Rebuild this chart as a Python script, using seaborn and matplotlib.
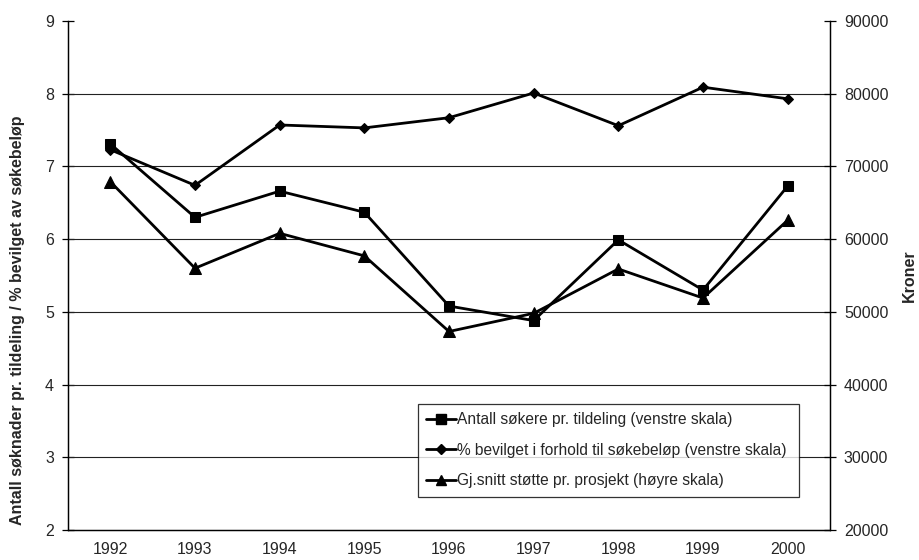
import matplotlib
matplotlib.use("Agg")
import matplotlib.pyplot as plt
from matplotlib.lines import Line2D
import seaborn as sns
import pandas as pd
import numpy as np

years = ["1992", "1993", "1994", "1995", "1996", "1997", "1998", "1999", "2000"]
antall_sokere = [7.31, 6.30, 6.66, 6.37, 5.08, 4.88, 5.99, 5.30, 6.73]
pst_bevilget = [7.23, 6.74, 7.57, 7.53, 7.67, 8.01, 7.56, 8.09, 7.93]
snitt_stotte = [67900, 56000, 60800, 57700, 47300, 49800, 55900, 51900, 62600]

lab_sokere = "Antall søkere pr. tildeling (venstre skala)"
lab_bevilget = "% bevilget i forhold til søkebeløp (venstre skala)"
lab_stotte = "Gj.snitt støtte pr. prosjekt (høyre skala)"

sns.set_style("white")
plt.rcParams["font.family"] = ["Liberation Sans", "DejaVu Sans"]
fs = 11.5

df = pd.DataFrame({
    "pos": np.arange(len(years)),
    "sokere": antall_sokere,
    "bevilget": pst_bevilget,
    "stotte": snitt_stotte,
})

fig = plt.figure(figsize=(9.19, 5.60), dpi=100)
ax = fig.add_axes([68 / 919, 30 / 560, 762 / 919, 509 / 560])
ax2 = ax.twinx()

lw = 2.0
sns.lineplot(data=df, x="pos", y="sokere", ax=ax, color="black", lw=lw,
             marker="s", markersize=7.5, markeredgecolor="black", zorder=3)
sns.lineplot(data=df, x="pos", y="bevilget", ax=ax, color="black", lw=lw,
             marker="D", markersize=5.5, markeredgecolor="black", zorder=3)
sns.lineplot(data=df, x="pos", y="stotte", ax=ax2, color="black", lw=lw,
             marker="^", markersize=8, markeredgecolor="black", zorder=3)

# left scale
ax.set_ylim(2, 9)
ax.set_yticks(range(2, 10))
ax.set_yticklabels([str(v) for v in range(2, 10)], fontsize=fs)
for v in range(3, 9):
    ax.axhline(v, color="#222222", lw=0.8, zorder=1)

# right scale
ax2.set_ylim(20000, 90000)
ax2.set_yticks(range(20000, 90001, 10000))
ax2.set_yticklabels([str(v) for v in range(20000, 90001, 10000)], fontsize=fs)

# categories: labels centred, tick marks on the boundaries
ax.set_xlim(-0.5, len(years) - 0.5)
ax.set_xticks(np.arange(len(years)))
ax.set_xticklabels(years, fontsize=fs)
ax.set_xticks(np.arange(len(years) + 1) - 0.5, minor=True)
ax.tick_params(axis="x", which="major", length=0, pad=9)
ax.tick_params(axis="x", which="minor", length=8, width=0.9, direction="inout", color="black")
ax.tick_params(axis="y", which="major", length=8, width=0.9, direction="inout", color="black", pad=6)
ax2.tick_params(axis="y", which="major", length=8, width=0.9, direction="inout", color="black", pad=6)

ax.set_xlabel("")
ax.set_ylabel("Antall søknader pr. tildeling / % bevilget av søkebeløp",
              fontsize=fs, fontweight="bold")
ax.yaxis.set_label_coords(-0.0564, 0.413)
ax2.set_ylabel("Kroner", fontsize=fs, fontweight="bold", rotation=90, labelpad=10)

for a in (ax, ax2):
    a.spines["top"].set_visible(False)
    for s in ("left", "right", "bottom"):
        a.spines[s].set_color("black")
        a.spines[s].set_linewidth(0.9)
ax.patch.set_visible(False)

handles = [
    Line2D([], [], color="black", lw=lw, marker="s", markersize=6.5),
    Line2D([], [], color="black", lw=lw, marker="D", markersize=5),
    Line2D([], [], color="black", lw=lw, marker="^", markersize=7),
]
leg = ax2.legend(handles, [lab_sokere, lab_bevilget, lab_stotte],
                 loc="lower left", bbox_to_anchor=(0.459, 0.065, 0.50, 0.188),
                 mode="expand", fontsize=11.2, handlelength=1.9, handletextpad=0.1,
                 borderpad=0.55, labelspacing=1.0, fancybox=False, frameon=True,
                 borderaxespad=0)
leg.get_frame().set_edgecolor("black")
leg.get_frame().set_linewidth(0.9)

fig.savefig("out.png", dpi=100)
